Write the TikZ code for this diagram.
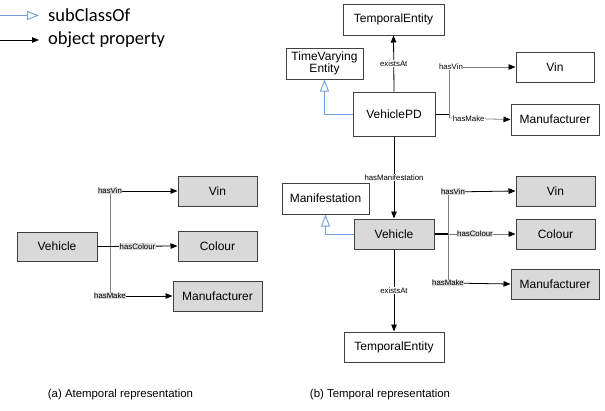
\documentclass[tikz,border=0pt]{standalone}
\usepackage{fontspec}
\setmainfont{Liberation Sans}
\newfontfamily\legfont{Carlito}
\usetikzlibrary{arrows.meta,shadows}
\definecolor{boxfill}{HTML}{D9D9D9}
\definecolor{boxline}{HTML}{404040}
\definecolor{labfill}{HTML}{DCDCDC}
\definecolor{linegray}{HTML}{7F7F7F}
\definecolor{subblue}{HTML}{6FA0D8}
\begin{document}
\begin{tikzpicture}[x=1pt,y=-1pt,
  cls/.style={draw=boxline, line width=1pt, fill=white, inner sep=1pt, align=center,
    font=\fontsize{12}{13}\selectfont,
    drop shadow={shadow xshift=1.3pt,shadow yshift=-1.3pt,fill=black,opacity=0.15}},
  gcls/.style={cls, fill=boxfill},
  prop/.style={-{Triangle[length=7pt,width=5.5pt,color=black]}, line width=0.8pt, draw=black},
  propg/.style={prop, draw=linegray},
  branch/.style={line width=0.8pt, draw=linegray},
  lab/.style={font=\fontsize{7.8}{8.5}\selectfont, inner sep=0.5pt, fill=white},
  glab/.style={lab, fill=labfill},
  sub/.style={-{Triangle[open,length=12pt,width=9pt]}, draw=subblue, line width=0.9pt},
  captxt/.style={font=\fontsize{11.4}{13}\selectfont, inner sep=0pt},
  leg/.style={font=\legfont\fontsize{18.5}{20}\selectfont, anchor=west, inner sep=0pt}
]
\useasboundingbox (0,0) rectangle (605,410);

% legend
\coordinate (l1a) at (0,15.5);
\coordinate (l1b) at (39,15.5);
\coordinate (l2a) at (0,40);
\coordinate (l2b) at (39,40);
\draw[sub] (l1a) -- (l1b);
\draw[prop] (l2a) -- (l2b);
\node[leg] (legsub) at (48,15.5) {subClassOf};
\node[leg] (legobj) at (48,39.5) {object property};

% ---------- (a) atemporal ----------
\node[gcls, minimum width=80pt, minimum height=29pt] (veh) at (57,246.5) {Vehicle};
\node[gcls, minimum width=79pt, minimum height=30pt] (vinA) at (217.5,191) {Vin};
\node[gcls, minimum width=79pt, minimum height=30pt] (colA) at (217.5,246) {Colour};
\node[gcls, minimum width=89pt, minimum height=30pt] (manA) at (217.5,296) {Manufacturer};

\coordinate (a1) at (110,191);
\coordinate (a2) at (110,296);
\draw[branch] (a1) -- (a2);
\draw[prop] (a1) -- (vinA.west);
\draw[prop] (veh.east) -- node[glab] (lcolA) {hasColour} (colA.west);
\draw[prop] (a2) -- (manA.west);
\node[glab] (lvinA) at (a1) {hasVin};
\node[glab] (lmanA) at (a2) {hasMake};

% ---------- (b) temporal ----------
\node[cls, minimum width=101pt, minimum height=31pt] (te1) at (393.5,19.5) {TemporalEntity};
\node[cls, minimum width=77pt, minimum height=31pt, font=\fontsize{12}{12.5}\selectfont] (tve) at (324.5,63.5) {TimeVarying\\Entity};
\node[cls, minimum width=82pt, minimum height=44pt] (vpd) at (394,114) {VehiclePD};
\node[cls, minimum width=78pt, minimum height=30pt] (vinB) at (555,67) {Vin};
\node[cls, minimum width=88pt, minimum height=31pt] (manB) at (555,119.5) {Manufacturer};

\node[cls, minimum width=87pt, minimum height=31pt] (man2) at (325.5,198.5) {Manifestation};
\node[gcls, minimum width=80pt, minimum height=30pt] (veh2) at (394,234) {Vehicle};
\node[gcls, minimum width=79pt, minimum height=30pt] (vinC) at (555.5,191) {Vin};
\node[gcls, minimum width=79pt, minimum height=30pt] (colC) at (555.5,234) {Colour};
\node[gcls, minimum width=88pt, minimum height=30pt] (manC) at (555,284) {Manufacturer};
\node[cls, minimum width=100pt, minimum height=30pt] (te2) at (394,347) {TemporalEntity};

% VehiclePD relations
\draw[prop] (vpd.north) -- node[lab] (lex1) {existsAt} (te1.south);
\draw[sub] (vpd.west) -| (tve.south);
\coordinate (b0) at (449,114);
\coordinate (b1) at (449,67);
\coordinate (b2) at (449,118);
\draw[line width=0.9pt] (vpd.east) -- (b0);
\draw[branch] (b1) -- (b2);
\draw[propg] (b1) -- (vinB.west);
\draw[propg] (b2) -- node[lab, pos=0.32] (lmanB) {hasMake} (manB.west);
\node[lab] (lvinB) at (451,67) {hasVin};

\draw[prop] (vpd.south) -- node[lab] (lman) {hasManifestation} (veh2.north);

% Vehicle (temporal) relations
\draw[sub] (veh2.west) -| (man2.south);
\coordinate (c0) at (448,234);
\coordinate (c1) at (448,192);
\coordinate (c2) at (448,283);
\draw[branch] (c1) -- (c2);
\draw[propg] (veh2.east) -- node[glab] (lcolC) {hasColour} (colC.west);
\draw[line width=1.2pt] (veh2.east) -- (c0);
\draw[prop] (c1) -- (vinC.west);
\draw[prop] (c2) -- (manC.west);
\node[glab] (lvinC) at (453,192) {hasVin};
\node[glab] (lmanC) at (c2) {hasMake};
\draw[prop] (veh2.south) -- node[lab] (lex2) {existsAt} (te2.north);

% captions
\node[captxt] (capa) at (120.5,395) {(a) Atemporal representation};
\node[captxt] (capb) at (380,395) {(b) Temporal representation};
\end{tikzpicture}
\end{document}
